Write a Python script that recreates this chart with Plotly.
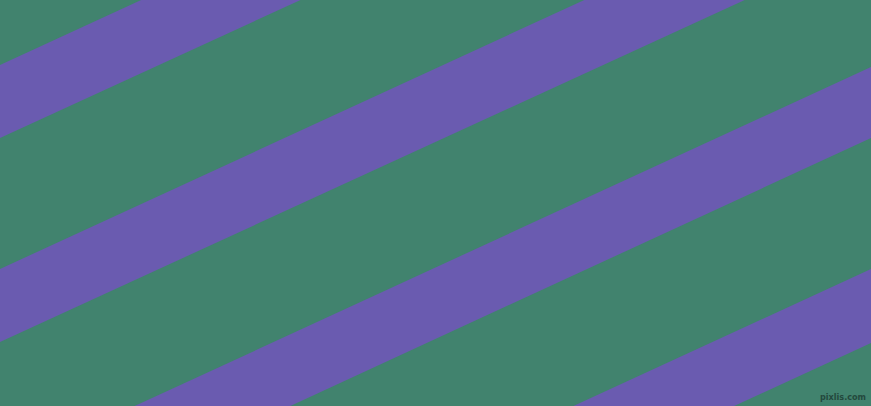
import plotly.graph_objects as go

# canvas size in pixels
W, H = 871, 406

# stripe edges: y at left edge (x=0) and right edge (x=W)
top_left = [65, 269, 468, 670]
top_right = [-336, -132, 67, 269]
bottom_left = [138, 342, 540, 744]
bottom_right = [-262, -58, 138, 343]

green = '#41836e'
purple = '#6a5bb0'

fig = go.Figure()

for tl, tr, bl, br in zip(top_left, top_right, bottom_left, bottom_right):
    fig.add_trace(go.Scatter(
        x=[0, W, W, 0, 0],
        y=[tl, tr, br, bl, tl],
        mode='lines',
        fill='toself',
        fillcolor=purple,
        line=dict(width=0, color=purple),
        hoverinfo='skip',
        showlegend=False
    ))

# watermark
fig.add_annotation(
    x=W - 3, y=H - 2, xref='x', yref='y',
    text='<b>pixlis.com</b>', showarrow=False,
    xanchor='right', yanchor='bottom',
    font=dict(family='DejaVu Sans Condensed', size=9, color='#24493d')
)

fig.update_xaxes(range=[0, W], visible=False, fixedrange=True)
fig.update_yaxes(range=[H, 0], visible=False, fixedrange=True)
fig.update_layout(
    width=W, height=H,
    margin=dict(l=0, r=0, t=0, b=0),
    plot_bgcolor=green,
    paper_bgcolor=green,
    showlegend=False
)

# page has a default body margin, drop it so the figure fills the window
fig.write_html("out.html", config={'displayModeBar': False},
               post_script="document.body.style.margin='0';document.body.style.overflow='hidden';")
